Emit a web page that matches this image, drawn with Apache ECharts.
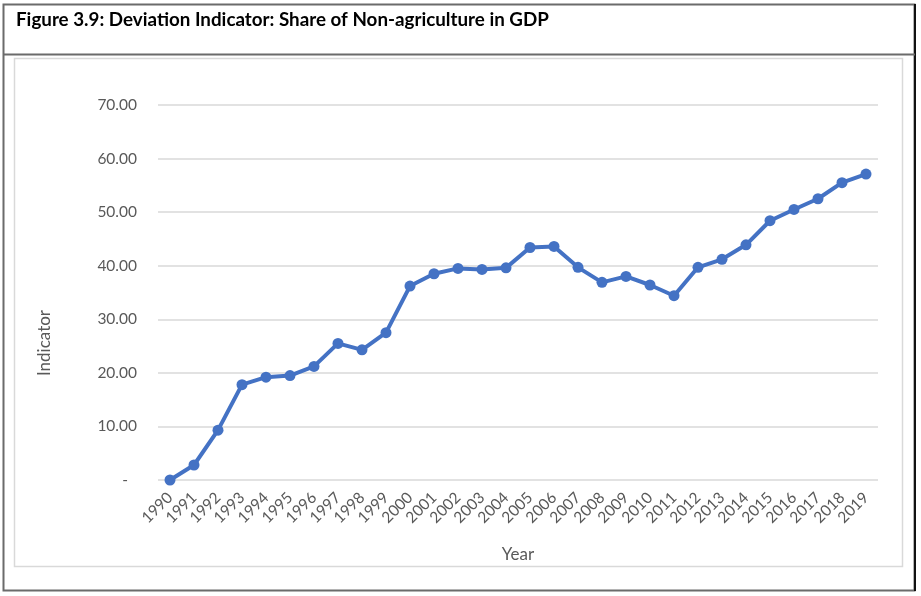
<!DOCTYPE html>
<html>
<head>
<meta charset="utf-8">
<script src="https://cdn.jsdelivr.net/npm/echarts@6/dist/echarts.min.js"></script>
<style>
html,body{margin:0;padding:0;background:#fff;}
#c{width:921px;height:596px;}
</style>
</head>
<body>
<div id="c"></div>
<script>
const titleText = 'Figure 3.9: Deviation Indicator: Share of Non-agriculture in GDP';
const years = ['1990','1991','1992','1993','1994','1995','1996','1997','1998','1999',
  '2000','2001','2002','2003','2004','2005','2006','2007','2008','2009',
  '2010','2011','2012','2013','2014','2015','2016','2017','2018','2019'];
const indicator = [0, 2.8, 9.3, 17.8, 19.2, 19.5, 21.2, 25.5, 24.3, 27.5,
  36.2, 38.5, 39.5, 39.3, 39.6, 43.4, 43.6, 39.7, 36.9, 38.0,
  36.4, 34.4, 39.7, 41.2, 43.9, 48.4, 50.5, 52.5, 55.5, 57.1];
const yTicks = [0, 10, 20, 30, 40, 50, 60, 70];

const chart = echarts.init(document.getElementById('c'), null, {renderer: 'canvas'});
const FONT = 'Lato';
chart.setOption({
  animation: false,
  backgroundColor: '#ffffff',
  graphic: [
    {type: 'rect', shape: {x: 3.5, y: 4.5, width: 911, height: 586}, style: {fill: 'none', stroke: '#6b6b6b', lineWidth: 2}},
    {type: 'line', shape: {x1: 915, y1: 4, x2: 915, y2: 591}, style: {stroke: '#111', lineWidth: 2}},
    {type: 'line', shape: {x1: 3, y1: 54.5, x2: 915, y2: 54.5}, style: {stroke: '#6b6b6b', lineWidth: 2}},
    {type: 'rect', shape: {x: 14.5, y: 58.5, width: 888, height: 508}, style: {fill: 'none', stroke: '#d9d9d9', lineWidth: 1.5}},
    {type: 'text', left: 16, top: 10, style: {text: titleText, font: 'bold 18.8px ' + FONT, fill: '#000'}},
    {type: 'text', x: 45, y: 343, rotation: Math.PI / 2,
      style: {text: 'Indicator', font: '17px ' + FONT, fill: '#595959', align: 'center', verticalAlign: 'middle'}}
  ],
  grid: {left: 158, right: 43, top: 105, bottom: 116},
  xAxis: {
    type: 'category',
    data: years,
    boundaryGap: true,
    axisLine: {show: false},
    axisTick: {show: false},
    axisLabel: {rotate: 45, color: '#595959', fontSize: 15.5, fontFamily: FONT, margin: 15, interval: 0},
    name: 'Year',
    nameLocation: 'middle',
    nameGap: 66,
    nameTextStyle: {color: '#595959', fontSize: 17, fontFamily: FONT}
  },
  yAxis: {
    type: 'value',
    min: 0, max: 70, interval: 10,
    axisLine: {show: false},
    axisTick: {show: false},
    splitLine: {lineStyle: {color: '#d9d9d9', width: 1.5}},
    axisLabel: {
      color: '#595959', fontSize: 15.5, fontFamily: FONT, margin: 21,
      formatter: function (v) { return v === 0 ? '{d|-}' : v.toFixed(2); },
      rich: {d: {color: '#595959', fontSize: 15.5, fontFamily: FONT, padding: [0, 9, 0, 0]}}
    }
  },
  series: [{
    type: 'line',
    data: indicator,
    symbol: 'circle',
    symbolSize: 11,
    lineStyle: {color: '#4472C4', width: 4},
    itemStyle: {color: '#4472C4'}
  }]
});
</script>
</body>
</html>
